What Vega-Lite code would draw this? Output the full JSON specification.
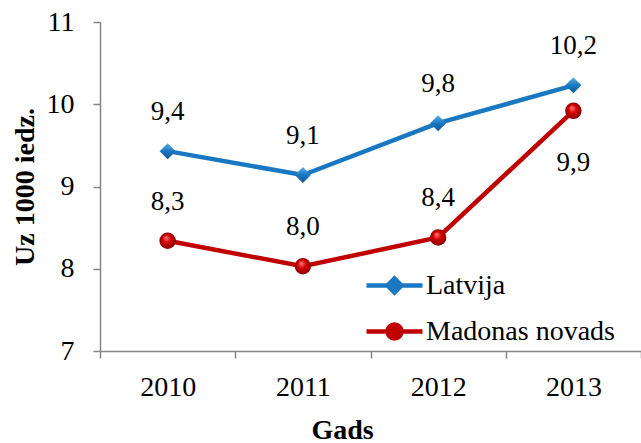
{
  "$schema": "https://vega.github.io/schema/vega-lite/v6.json",
  "width": 541,
  "height": 329,
  "autosize": {"type": "none"},
  "padding": {"left": 100, "top": 22, "right": 0, "bottom": 92},
  "config": {
    "view": {"stroke": null},
    "font": "'Liberation Serif', 'Times New Roman', 'DejaVu Serif', serif",
    "text": {"font": "'Liberation Serif', 'Times New Roman', 'DejaVu Serif', serif"},
    "axis": {"labelFont": "'Liberation Serif', 'Times New Roman', 'DejaVu Serif', serif", "titleFont": "'Liberation Serif', 'Times New Roman', 'DejaVu Serif', serif"},
    "legend": {"labelFont": "'Liberation Serif', 'Times New Roman', 'DejaVu Serif', serif", "titleFont": "'Liberation Serif', 'Times New Roman', 'DejaVu Serif', serif", "symbolFillColor": "black"},
    "locale": {"number": {"decimal": ",", "thousands": " ", "grouping": [3], "currency": ["", ""]}}
  },
  "data": {
    "values": [
      {"year": "2010", "series": "Latvija", "value": 9.43, "pos": "above"},
      {"year": "2011", "series": "Latvija", "value": 9.14, "pos": "above"},
      {"year": "2012", "series": "Latvija", "value": 9.77, "pos": "above"},
      {"year": "2013", "series": "Latvija", "value": 10.23, "pos": "above"},
      {"year": "2010", "series": "Madonas novads", "value": 8.34, "pos": "above"},
      {"year": "2011", "series": "Madonas novads", "value": 8.03, "pos": "above"},
      {"year": "2012", "series": "Madonas novads", "value": 8.38, "pos": "above"},
      {"year": "2013", "series": "Madonas novads", "value": 9.92, "pos": "below"}
    ]
  },
  "encoding": {
    "x": {
      "field": "year",
      "type": "nominal",
      "scale": {"type": "band", "paddingInner": 0, "paddingOuter": 0},
      "axis": {
        "title": "Gads",
        "labelAngle": 0,
        "tickBand": "extent",
        "tickSize": 7,
        "labelPadding": 15,
        "domainColor": "#868686",
        "tickColor": "#868686",
        "domainWidth": 1.5,
        "tickWidth": 1.5,
        "labelFontSize": 28,
        "labelColor": "black",
        "titleFontSize": 28,
        "titleFontWeight": "bold",
        "titleColor": "black",
        "titleX": 242,
        "titleY": 87,
        "titleAlign": "center",
        "titleBaseline": "alphabetic"
      }
    },
    "y": {
      "field": "value",
      "type": "quantitative",
      "scale": {"domain": [7, 11], "nice": false, "zero": false},
      "axis": {
        "values": [7, 8, 9, 10, 11],
        "title": "Uz 1000 iedz.",
        "grid": false,
        "domainColor": "#868686",
        "tickColor": "#868686",
        "domainWidth": 1.5,
        "tickWidth": 1.5,
        "tickSize": 7,
        "labelPadding": 19,
        "labelFontSize": 28,
        "labelColor": "black",
        "labelBaseline": "middle",
        "titleFontSize": 28,
        "titleFontWeight": "bold",
        "titleColor": "black",
        "titleAngle": -90,
        "titleX": -67,
        "titleY": 164.5,
        "titleAlign": "center",
        "titleBaseline": "alphabetic"
      }
    }
  },
  "layer": [
    {
      "mark": {"type": "line", "strokeWidth": 4.5},
      "encoding": {
        "color": {
          "field": "series",
          "type": "nominal",
          "scale": {"range": ["#1a78c2", "#c00000"]},
          "legend": null
        }
      }
    },
    {
      "transform": [{"filter": "datum.series === 'Latvija'"}],
      "mark": {
        "type": "point",
        "shape": "diamond",
        "filled": true,
        "size": 256,
        "opacity": 1,
        "color": {
          "gradient": "linear",
          "x1": 0, "y1": 0, "x2": 0, "y2": 1,
          "stops": [
            {"offset": 0, "color": "#5fb0ea"},
            {"offset": 0.5, "color": "#1a78c2"},
            {"offset": 1, "color": "#0d5a98"}
          ]
        }
      }
    },
    {
      "transform": [{"filter": "datum.series === 'Madonas novads'"}],
      "mark": {
        "type": "point",
        "shape": "circle",
        "filled": true,
        "size": 270,
        "opacity": 1,
        "color": {
          "gradient": "radial",
          "x1": 0.4, "y1": 0.3, "r1": 0,
          "x2": 0.5, "y2": 0.5, "r2": 0.55,
          "stops": [
            {"offset": 0, "color": "#ff8080"},
            {"offset": 0.45, "color": "#d40000"},
            {"offset": 1, "color": "#7a0000"}
          ]
        }
      }
    },
    {
      "mark": {"type": "point", "filled": true, "opacity": 0, "size": 784, "strokeWidth": 4.5},
      "encoding": {
        "fill": {
          "field": "series",
          "type": "nominal",
          "scale": {"domain": ["Latvija", "Madonas novads"], "range": ["#1a78c2", "#c00000"]},
          "legend": {
            "orient": "none",
            "legendX": 278,
            "legendY": 247,
            "title": null,
            "padding": 0,
            "symbolSize": 784,
            "symbolStrokeWidth": 4.5,
            "symbolOpacity": 1,
            "labelFontSize": 28,
            "labelColor": "black",
            "labelLimit": 400,
            "labelOffset": 15,
            "rowPadding": 13
          }
        },
        "stroke": {
          "field": "series",
          "type": "nominal",
          "scale": {"domain": ["Latvija", "Madonas novads"], "range": ["#1a78c2", "#c00000"]}
        },
        "shape": {
          "field": "series",
          "type": "nominal",
          "scale": {
            "domain": ["Latvija", "Madonas novads"],
            "range": [
              "M-2,0H2M0,-0.5L0.5,0L0,0.5L-0.5,0Z",
              "M-2,0H2M0.5,0A0.5,0.5,0,1,1,-0.5,0A0.5,0.5,0,1,1,0.5,0Z"
            ]
          }
        }
      }
    },
    {
      "transform": [{"filter": "datum.pos === 'above'"}],
      "mark": {"type": "text", "dy": -39, "fontSize": 27, "color": "black", "baseline": "middle"},
      "encoding": {"text": {"field": "value", "type": "quantitative", "format": ".1f"}}
    },
    {
      "transform": [{"filter": "datum.pos === 'below'"}],
      "mark": {"type": "text", "dy": 52, "fontSize": 27, "color": "black", "baseline": "middle"},
      "encoding": {"text": {"field": "value", "type": "quantitative", "format": ".1f"}}
    }
  ]
}
